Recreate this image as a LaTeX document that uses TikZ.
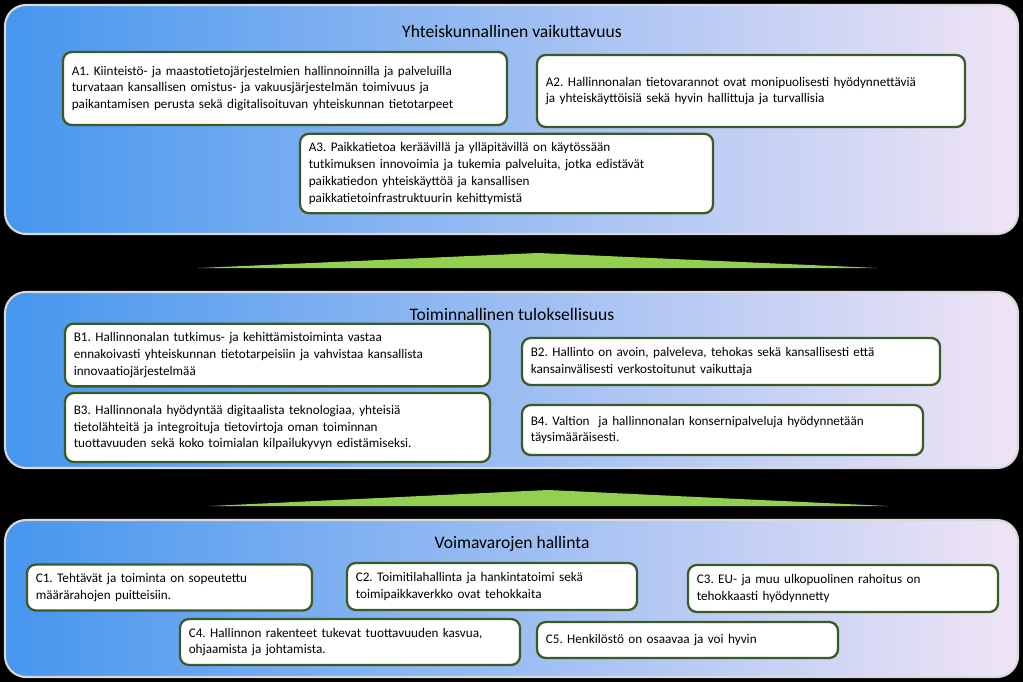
\documentclass[tikz,border=0pt]{standalone}
\usepackage{fontspec}
\setmainfont{Carlito}
\usetikzlibrary{calc}
\frenchspacing

\definecolor{panelblue}{RGB}{70,150,238}
\definecolor{panellilac}{RGB}{240,228,246}
\definecolor{wedgegreen}{RGB}{146,208,80}
\definecolor{boxgreen}{RGB}{60,90,40}

\tikzset{
	panel/.style = {rounded corners = 12pt, left color = panelblue, right color = panellilac, draw = white!70!gray, line width = 1.2pt},
	goal/.style = {draw = boxgreen, line width = 1.3pt, fill = white, rounded corners = 5pt, align = left, inner sep = 5pt, font = \fontsize{7.5}{9.6}\selectfont},
	heading/.style = {font = \fontsize{10}{12}\selectfont},
	wedge/.style = {fill = wedgegreen}
}

\newcommand{\goalbox}[6]{%
	\node [goal, minimum width = {(#4-#2)*0.02cm}, minimum height = {(#5-#3)*0.02cm}, text width = {(#4-#2)*0.02cm - 10pt}] (#1) at ({(#2+#4)/2},{(#3+#5)/2}) {#6};}

\begin{document}
\begin{tikzpicture}[x = 0.02cm, y = -0.02cm]
			\fill [black] (0,0) rectangle (1023,682);

			% paneelit
			\draw [panel] (5,5) rectangle (1018,234);
			\draw [panel] (5,292) rectangle (1018,468);
			\draw [panel] (5,520) rectangle (1018,677);

			% kiilat
			\fill [wedge] (198,268) -- (538,253) -- (877,268) -- cycle;
			\fill [wedge] (210,506) -- (548,490) -- (888,506) -- cycle;

			\node [heading] (ta) at (512,31) {Yhteiskunnallinen vaikuttavuus};
			\node [heading] (tb) at (512,314) {Toiminnallinen tuloksellisuus};
			\node [heading] (tc) at (512,544) {Voimavarojen hallinta};

			\goalbox{a1}{63}{52}{507}{125}{A1. Kiinteistö- ja maastotietojärjestelmien hallinnoinnilla ja palveluilla\\ turvataan kansallisen omistus- ja vakuusjärjestelmän toimivuus ja\\ paikantamisen perusta sekä digitalisoituvan yhteiskunnan tietotarpeet}
			\goalbox{a2}{537}{55}{965}{127}{A2. Hallinnonalan tietovarannot ovat monipuolisesti hyödynnettäviä\\ ja yhteiskäyttöisiä sekä hyvin hallittuja ja turvallisia}
			\goalbox{a3}{300}{137}{713}{210}{A3. Paikkatietoa keräävillä ja ylläpitävillä on käytössään\\ tutkimuksen innovoimia ja tukemia palveluita, jotka edistävät\\ paikkatiedon yhteiskäyttöä ja kansallisen\\ paikkatietoinfrastruktuurin kehittymistä}

			\goalbox{b1}{65}{330}{490}{380}{B1. Hallinnonalan tutkimus- ja kehittämistoiminta vastaa\\ ennakoivasti yhteiskunnan tietotarpeisiin ja vahvistaa kansallista\\ innovaatiojärjestelmää}
			\goalbox{b2}{522}{338}{940}{385}{B2. Hallinto on avoin, palveleva, tehokas sekä kansallisesti että\\ kansainvälisesti verkostoitunut vaikuttaja}
			\goalbox{b3}{65}{393}{490}{462}{B3. Hallinnonala hyödyntää digitaalista teknologiaa, yhteisiä\\ tietolähteitä ja integroituja tietovirtoja oman toiminnan\\ tuottavuuden sekä koko toimialan kilpailukyvyn edistämiseksi.}
			\goalbox{b4}{522}{405}{923}{455}{B4. Valtion\ \ ja hallinnonalan konsernipalveluja hyödynnetään\\ täysimääräisesti.}

			\goalbox{c1}{27}{565}{312}{610}{C1. Tehtävät ja toiminta on sopeutettu\\ määrärahojen puitteisiin.}
			\goalbox{c2}{347}{563}{637}{610}{C2. Toimitilahallinta ja hankintatoimi sekä\\ toimipaikkaverkko ovat tehokkaita}
			\goalbox{c3}{688}{565}{998}{612}{C3. EU- ja muu ulkopuolinen rahoitus on\\ tehokkaasti hyödynnetty}
			\goalbox{c4}{180}{622}{520}{662}{C4. Hallinnon rakenteet tukevat tuottavuuden kasvua,\\ ohjaamista ja johtamista.}
			\goalbox{c5}{537}{622}{838}{658}{C5. Henkilöstö on osaavaa ja voi hyvin}
		\end{tikzpicture}
\end{document}
